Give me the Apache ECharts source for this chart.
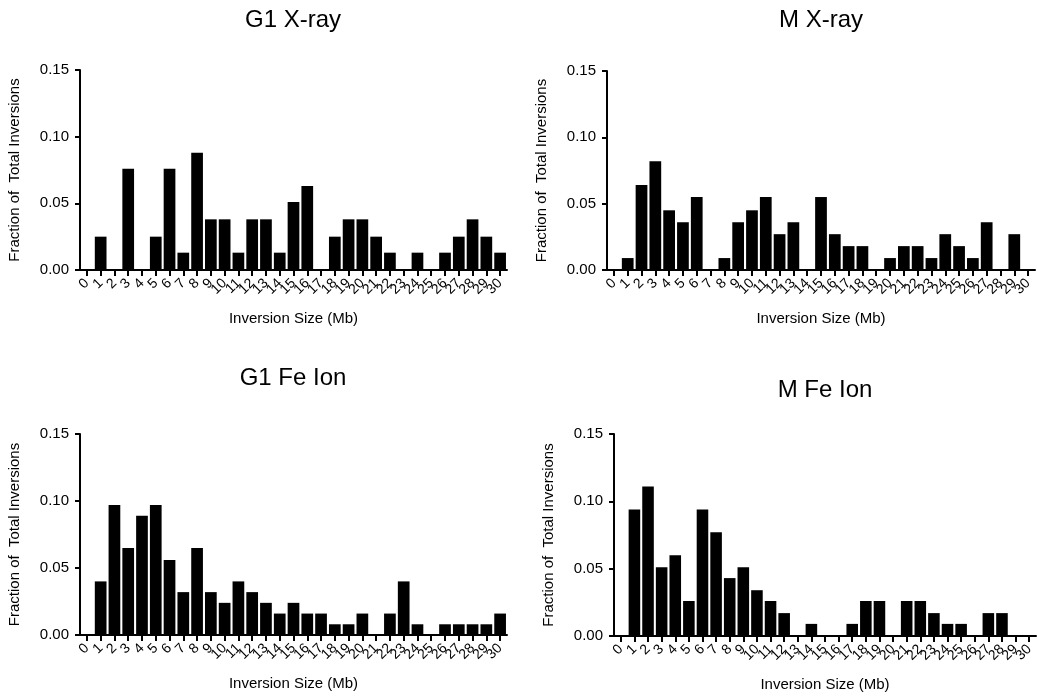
<!DOCTYPE html>
<html>
<head>
<meta charset="utf-8">
<script src="https://cdn.jsdelivr.net/npm/echarts@6/dist/echarts.min.js"></script>
<style>
html,body{margin:0;padding:0;background:#fff;}
#chart{width:1037px;height:698px;}
</style>
</head>
<body>
<div id="chart"></div>
<script>
const categories = ['0','1','2','3','4','5','6','7','8','9','10','11','12','13','14','15','16','17','18','19','20','21','22','23','24','25','26','27','28','29','30'];
const yTicks = [0, 0.05, 0.10, 0.15];
const panelTitles = ['G1 X-ray', 'M X-ray', 'G1 Fe Ion', 'M Fe Ion'];
const yAxisName = 'Fraction of  Total Inversions';
const xAxisName = 'Inversion Size (Mb)';

const g1Xray = [0, 0.025, 0, 0.076, 0, 0.025, 0.076, 0.013, 0.088, 0.038, 0.038, 0.013, 0.038, 0.038, 0.013, 0.051, 0.063, 0, 0.025, 0.038, 0.038, 0.025, 0.013, 0, 0.013, 0, 0.013, 0.025, 0.038, 0.025, 0.013];
const mXray  = [0, 0.009, 0.064, 0.082, 0.045, 0.036, 0.055, 0, 0.009, 0.036, 0.045, 0.055, 0.027, 0.036, 0, 0.055, 0.027, 0.018, 0.018, 0, 0.009, 0.018, 0.018, 0.009, 0.027, 0.018, 0.009, 0.036, 0, 0.027, 0];
const g1Fe   = [0, 0.040, 0.097, 0.065, 0.089, 0.097, 0.056, 0.032, 0.065, 0.032, 0.024, 0.040, 0.032, 0.024, 0.016, 0.024, 0.016, 0.016, 0.008, 0.008, 0.016, 0, 0.016, 0.040, 0.008, 0, 0.008, 0.008, 0.008, 0.008, 0.016];
const mFe    = [0, 0.094, 0.111, 0.051, 0.060, 0.026, 0.094, 0.077, 0.043, 0.051, 0.034, 0.026, 0.017, 0, 0.009, 0, 0, 0.009, 0.026, 0.026, 0, 0.026, 0.026, 0.017, 0.009, 0.009, 0, 0.017, 0.017, 0, 0];

const seriesData = [g1Xray, mXray, g1Fe, mFe];

const FONT = '"Liberation Sans", Arial, sans-serif';
const grids = [
  {left: 80,  top: 70,  width: 427, height: 200},
  {left: 607, top: 71,  width: 428, height: 199},
  {left: 80,  top: 434, width: 427, height: 201},
  {left: 614, top: 434, width: 422, height: 202}
];
const titlePos = [
  {x: 293, y: 20.5},
  {x: 821, y: 20.5},
  {x: 293, y: 378.5},
  {x: 825, y: 390.5}
];

const axisLine = {show: true, lineStyle: {color: '#000', width: 2}};
const option = {
  backgroundColor: '#fff',
  animation: false,
  grid: grids.map(g => Object.assign({containLabel: false}, g)),
  xAxis: grids.map((g, i) => ({
    type: 'category',
    gridIndex: i,
    data: categories,
    boundaryGap: true,
    axisLine: axisLine,
    axisTick: {show: true, alignWithLabel: true, interval: 0, length: 6, lineStyle: {color: '#000', width: 2}},
    axisLabel: {interval: 0, rotate: 45, margin: 11, color: '#000', fontSize: 14, fontFamily: FONT},
    splitLine: {show: false},
    name: xAxisName,
    nameLocation: 'middle',
    nameGap: 41,
    nameTextStyle: {color: '#000', fontSize: 15, fontFamily: FONT}
  })),
  yAxis: grids.map((g, i) => ({
    type: 'value',
    gridIndex: i,
    min: yTicks[0],
    max: yTicks[yTicks.length - 1],
    interval: 0.05,
    axisLine: axisLine,
    axisTick: {show: true, length: 5, lineStyle: {color: '#000', width: 2}},
    axisLabel: {color: '#000', fontSize: 15, fontFamily: FONT, margin: 11, formatter: v => v.toFixed(2)},
    splitLine: {show: false},
    name: yAxisName,
    nameLocation: 'middle',
    nameGap: 58,
    nameTextStyle: {color: '#000', fontSize: 15, fontFamily: FONT}
  })),
  series: seriesData.map((d, i) => ({
    type: 'bar',
    xAxisIndex: i,
    yAxisIndex: i,
    data: d,
    barCategoryGap: '15%',
    itemStyle: {color: '#000'}
  })),
  graphic: panelTitles.map((t, i) => ({
    type: 'text',
    x: titlePos[i].x,
    y: titlePos[i].y,
    style: {text: t, fill: '#000', font: '24px ' + FONT, textAlign: 'center', textVerticalAlign: 'middle', verticalAlign: 'middle'}
  }))
};

const chart = echarts.init(document.getElementById('chart'), null, {renderer: 'canvas'});
chart.setOption(option);
</script>
</body>
</html>
